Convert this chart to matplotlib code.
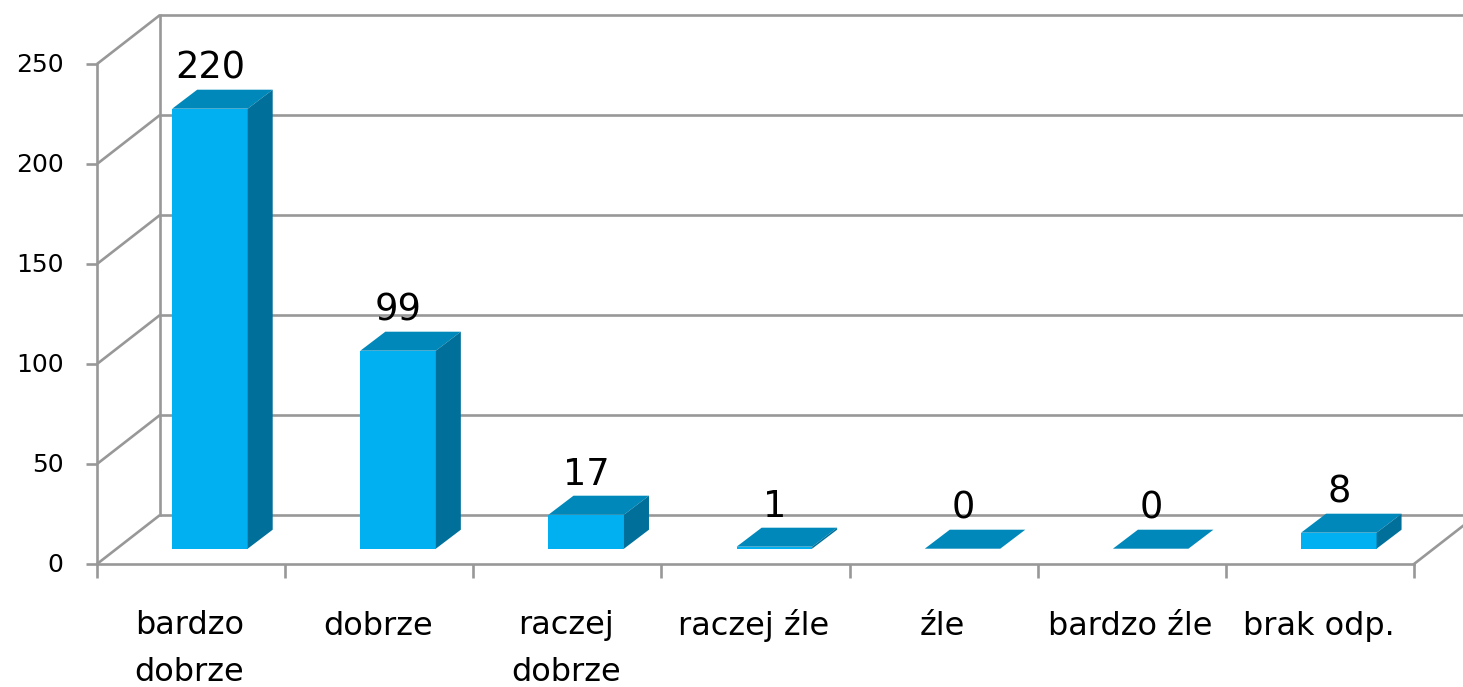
import matplotlib
matplotlib.use("Agg")
import matplotlib.pyplot as plt
from matplotlib.patches import Polygon
from matplotlib.transforms import ScaledTranslation

categories = ["bardzo\ndobrze", "dobrze", "raczej\ndobrze", "raczej źle", "źle", "bardzo źle", "brak odp."]
values = [220, 99, 17, 1, 0, 0, 8]
y_ticks = [0, 50, 100, 150, 200, 250]

W, H = 1463, 687
plt.rcParams['font.family'] = ['DejaVu Sans']
fig = plt.figure(figsize=(W / 100, H / 100), dpi=100)
L, R, B, T = 97, 1414, 564, 64
ax = fig.add_axes([L / W, 1 - B / H, (R - L) / W, (B - T) / H])
n = len(categories)
ax.set_xlim(0, n)
ax.set_ylim(0, 250)
px = n / (R - L)      # data x per pixel
py = 250 / (B - T)    # data y per pixel

GRID = "#989898"
LW = 1.9
for s in ("top", "right"):
    ax.spines[s].set_visible(False)
for s in ("left", "bottom"):
    ax.spines[s].set_color(GRID)
    ax.spines[s].set_linewidth(LW)

# back wall
dx, dy = 63 * px, 49 * py
ext = (W - R) * px
for v in y_ticks:
    ax.plot([0, dx], [v, v + dy], color=GRID, lw=LW, clip_on=False, zorder=1, solid_capstyle="butt")
    ax.plot([dx, n + ext], [v + dy, v + dy], color=GRID, lw=LW, clip_on=False, zorder=1, solid_capstyle="butt")
ax.plot([dx, dx], [dy, 250 + dy], color=GRID, lw=LW, clip_on=False, zorder=1)
ax.plot([n, n + dx], [0, dy], color=GRID, lw=LW, clip_on=False, zorder=1)

# bars
FRONT, TOP, SIDE = "#00B0F0", "#0088BA", "#00709B"
bar_w = 75.5 * px
base = 15.3 * py
ox, oy = 25 * px, 19 * py
for i, v in enumerate(values):
    l = i + 75.2 * px
    r = l + bar_w
    b = base
    t = base + v
    ax.add_patch(Polygon([(l, b), (r, b), (r, t), (l, t)], fc=FRONT, ec="none", zorder=3))
    ax.add_patch(Polygon([(l, t), (r, t), (r + ox, t + oy), (l + ox, t + oy)], fc=TOP, ec="none", zorder=3))
    ax.add_patch(Polygon([(r, b), (r + ox, b + oy), (r + ox, t + oy), (r, t)], fc=SIDE, ec="none", zorder=3))
    ax.text(l + bar_w / 2 + 0.5 * px, t + oy + 3 * py, str(v), ha="center", va="bottom",
            fontsize=26.5, color="black", zorder=4)

ax.set_yticks(y_ticks)
ax.set_xticks(range(n + 1))
ax.set_xticklabels([])
ax.set_xticks([i + 0.5 - 1.5 * px for i in range(n)], minor=True)
ax.set_xticklabels(categories, minor=True, fontsize=23, linespacing=1.68, va="baseline")
ax.tick_params(axis="x", which="major", length=10, width=LW, color=GRID)
ax.tick_params(axis="x", which="minor", length=0, pad=51)
ax.tick_params(axis="y", length=8, width=LW, color=GRID, labelsize=18, pad=16)
shift = ScaledTranslation(0, 2 / 100, fig.dpi_scale_trans)
for lab in ax.get_yticklabels():
    lab.set_transform(lab.get_transform() + shift)
# multi-line labels align on their last line: move them down one line
down = ScaledTranslation(0, -46 / 100, fig.dpi_scale_trans)
for lab in ax.get_xticklabels(minor=True):
    if "\n" in lab.get_text():
        lab.set_transform(lab.get_transform() + down)

fig.savefig("out.png", dpi=100, facecolor="white")
